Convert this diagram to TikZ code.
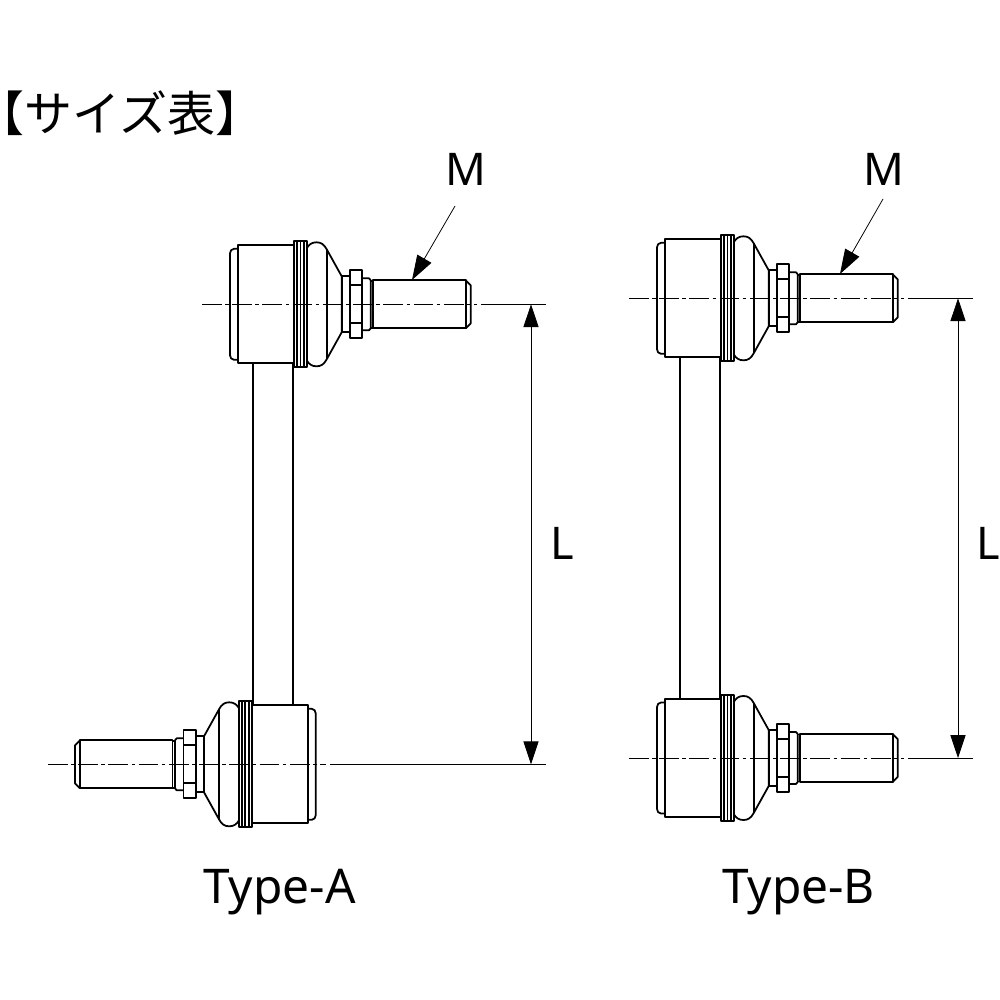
\documentclass[tikz,border=0pt]{standalone}
\usepackage{fontspec}
\setmainfont{Noto Sans}
\newfontfamily\cjkfont{Noto Sans CJK JP}
\newfontfamily\cjkhalt[RawFeature=+halt]{Noto Sans CJK JP}
\usetikzlibrary{arrows.meta}

\tikzset{
  part/.style={line width=0.5pt,line join=round},
  thin line/.style={line width=0.2pt},
  center line/.style={line width=0.2pt,dash pattern=on 5.6pt off 1pt on 1pt off 1pt},
  dim line/.style={line width=0.22pt,{Triangle[length=6.5pt,width=4.3pt]}-{Triangle[length=6.5pt,width=4.3pt]}},
  leader/.style={line width=0.22pt,-{Triangle[length=7pt,width=4.6pt]}},
  letter/.style={font=\fontsize{12.8pt}{14pt}\selectfont,inner sep=0pt,anchor=base},
  type name/.style={font=\fontsize{13.6pt}{15pt}\selectfont,inner sep=0pt,anchor=base},
  pics/balljoint/.style={code={
    % body and cap
    \draw[part] (0,-59) rectangle (55.7,59);
    \draw[part] (0,-55.5)--(-4,-55.5) to[out=180,in=90] (-8,-51)--(-8,51) to[out=-90,in=180] (-4,55.5)--(0,55.5);
    % band
    \draw[part] (55.7,-63) rectangle (68.7,63);
    \draw[part] (59,-63)--(59,63);
    \draw[part] (62.5,-63)--(62.5,63);
    \draw[part] (65.7,-63)--(65.7,63);
    % boot
    \draw[part] (68.7,-56) .. controls (71,-60) and (74,-62) .. (78.5,-62)
      .. controls (83,-62) and (86,-60) .. (88.7,-55)--(103.7,-28)--(103.7,28)--(88.7,55)
      .. controls (86,60) and (83,62) .. (78.5,62)
      .. controls (74,62) and (71,60) .. (68.7,56);
    \draw[part] (88.7,-55)--(88.7,55);
    % collar, nut, washer
    \draw[part] (103.7,-28) rectangle (112,28);
    \draw[part] (112,-34) rectangle (124.3,34);
    \draw[part] (112,-19)--(124.3,-19);
    \draw[part] (112,19)--(124.3,19);
    \draw[part] (124.3,-26)--(131,-26)--(132.7,-24)--(132.7,24)--(131,26)--(124.3,26);
    \draw[part] (132.7,-23.5)--(135.3,-23.5)--(135.3,23.5)--(132.7,23.5);
    % stud
    \draw[part] (135.3,-24) rectangle (227.7,24);
    \draw[part] (227.7,-24)--(232.7,-19)--(232.7,19)--(227.7,24);
  }}
}

\begin{document}
\begin{tikzpicture}[x=0.01cm,y=-0.01cm]
\useasboundingbox (0,0) rectangle (1000,1000);

\node[inner sep=0pt,anchor=west,font=\cjkfont\fontsize{13.65pt}{16pt}\selectfont] (title) at (0,113) {{\cjkhalt 【}サイズ表】};

% Type-A
\coordinate (a top) at (238,304.3);
\coordinate (a bot) at (307.7,764.3);
\draw[thin line] (481,304.3)--(546,304.3);
\draw[thin line] (330,764.3)--(546,764.3);
\draw[center line] (202,304.3)--(477,304.3);
\draw[center line] (48,764.3)--(326,764.3);
\pic at (a top) {balljoint};
\pic[xscale=-1] at (a bot) {balljoint};
\draw[part] (253,363.3)--(253,705);
\draw[part] (293,363.3)--(293,705);
\coordinate (a dim top) at (531,304.3);
\coordinate (a dim bot) at (531,764.3);
\draw[dim line] (a dim top)--(a dim bot);
\coordinate (a lead) at (455,206);
\coordinate (a tip) at (412,280);
\draw[leader] (a lead)--(a tip);
\node[letter] (a m) at (466,185) {M};
\node[letter] (a l) at (562,559) {L};
\node[type name] (a name) at (279.5,903) {Type-A};

% Type-B
\coordinate (b top) at (665,298.3);
\coordinate (b bot) at (665,758);
\draw[thin line] (908,298.3)--(973,298.3);
\draw[thin line] (908,758)--(973,758);
\draw[center line] (629,298.3)--(904,298.3);
\draw[center line] (629,758)--(904,758);
\pic at (b top) {balljoint};
\pic at (b bot) {balljoint};
\draw[part] (680,357.3)--(680,699);
\draw[part] (720,357.3)--(720,699);
\coordinate (b dim top) at (958,298.3);
\coordinate (b dim bot) at (958,758);
\draw[dim line] (b dim top)--(b dim bot);
\coordinate (b lead) at (883,199);
\coordinate (b tip) at (840,274);
\draw[leader] (b lead)--(b tip);
\node[letter] (b m) at (884,185) {M};
\node[letter] (b l) at (988,559) {L};
\node[type name] (b name) at (798.5,903) {Type-B};
\end{tikzpicture}
\end{document}
